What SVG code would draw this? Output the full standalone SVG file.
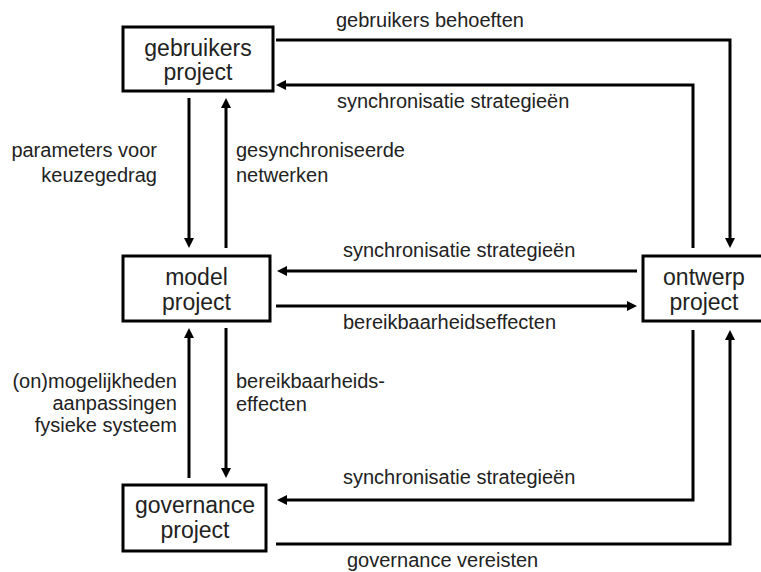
<svg xmlns="http://www.w3.org/2000/svg" width="761" height="572" viewBox="0 0 761 572">
<style>
.box{fill:#fff;stroke:#000;stroke-width:3}
.nt{font-family:"Liberation Sans",Arial,sans-serif;font-size:23px;fill:#222;text-anchor:middle}
.lb{font-family:"Liberation Sans",Arial,sans-serif;font-size:20px;fill:#222}
.r{text-anchor:end}
.c{fill:none;stroke:#000;stroke-width:3}
</style>
<defs>
<marker id="ah" markerUnits="userSpaceOnUse" markerWidth="12" markerHeight="12" refX="4" refY="5" orient="auto">
<path d="M0,0 L10,5 L0,10 z" fill="#000"/>
</marker>
</defs>
<rect width="761" height="572" fill="#fff"/>
<g id="connectors">
<path class="c" d="M276,40 H730 V242" marker-end="url(#ah)"/>
<path class="c" d="M693,248 V85 H282" marker-end="url(#ah)"/>
<path class="c" d="M189,98 V242" marker-end="url(#ah)"/>
<path class="c" d="M226,248 V104" marker-end="url(#ah)"/>
<path class="c" d="M637,271 H283" marker-end="url(#ah)"/>
<path class="c" d="M276,306 H631" marker-end="url(#ah)"/>
<path class="c" d="M189,478 V334" marker-end="url(#ah)"/>
<path class="c" d="M226,328 V472" marker-end="url(#ah)"/>
<path class="c" d="M693,330 V500 H283" marker-end="url(#ah)"/>
<path class="c" d="M276,544 H730 V336" marker-end="url(#ah)"/>
</g>
<g id="labels">
<text class="lb" x="336" y="27">gebruikers behoeften</text>
<text class="lb" x="337" y="108">synchronisatie strategieën</text>
<text class="lb r" x="157" y="157">parameters voor</text>
<text class="lb r" x="157" y="182">keuzegedrag</text>
<text class="lb" x="236" y="157">gesynchroniseerde</text>
<text class="lb" x="236" y="182">netwerken</text>
<text class="lb" x="343" y="257">synchronisatie strategieën</text>
<text class="lb" x="343" y="329">bereikbaarheidseffecten</text>
<text class="lb r" x="177" y="388">(on)mogelijkheden</text>
<text class="lb r" x="177" y="410">aanpassingen</text>
<text class="lb r" x="177" y="432">fysieke systeem</text>
<text class="lb" x="236" y="388">bereikbaarheids-</text>
<text class="lb" x="236" y="411">effecten</text>
<text class="lb" x="343" y="484">synchronisatie strategieën</text>
<text class="lb" x="347" y="567">governance vereisten</text>
</g>
<g id="gebruikers">
<rect class="box" x="123" y="27" width="150" height="64"/>
<text class="nt" x="198" y="56">gebruikers</text>
<text class="nt" x="198" y="80">project</text>
</g>
<g id="model">
<rect class="box" x="123" y="256" width="147" height="65"/>
<text class="nt" x="196.5" y="285">model</text>
<text class="nt" x="196.5" y="310">project</text>
</g>
<g id="governance">
<rect class="box" x="123" y="485" width="143" height="66"/>
<text class="nt" x="195" y="513">governance</text>
<text class="nt" x="195" y="538">project</text>
</g>
<g id="ontwerp">
<rect class="box" x="643" y="256" width="122" height="65"/>
<text class="nt" x="704" y="285">ontwerp</text>
<text class="nt" x="704" y="310">project</text>
</g>
</svg>
